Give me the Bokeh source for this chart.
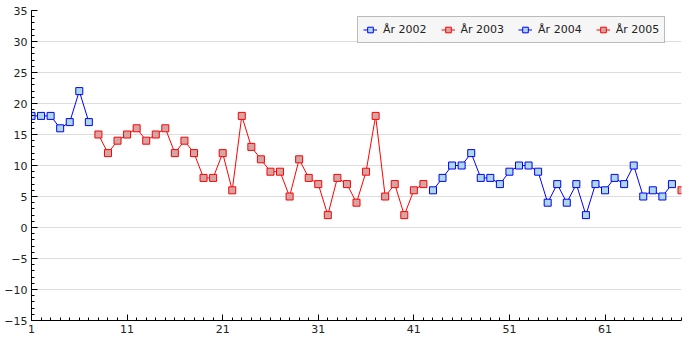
from bokeh.plotting import figure
from bokeh.models import Range1d, FixedTicker
from bokeh.embed import file_html
from bokeh.resources import INLINE

# Data
x2002 = list(range(1, 8))
y2002 = [18, 18, 18, 16, 17, 22, 17]

x2003 = list(range(8, 43))
y2003 = [15, 12, 14, 15, 16, 14, 15, 16, 12, 14, 12, 8, 8, 12, 6, 18, 13, 11,
         9, 9, 5, 11, 8, 7, 2, 8, 7, 4, 9, 18, 5, 7, 2, 6, 7]

x2004 = list(range(43, 69))
y2004 = [6, 8, 10, 10, 12, 8, 8, 7, 9, 10, 10, 9, 4, 7, 4, 7, 2, 7, 6, 8, 7,
         10, 5, 6, 5, 7]

x2005 = [69]
y2005 = [6]

x_ticks = [1, 11, 21, 31, 41, 51, 61]
y_ticks = [-15, -10, -5, 0, 5, 10, 15, 20, 25, 30, 35]

series = [
    ("År 2002", x2002, y2002, "#0000ff", "#add8e6"),
    ("År 2003", x2003, y2003, "#ff0000", "#d4a5a5"),
    ("År 2004", x2004, y2004, "#0000ff", "#add8e6"),
    ("År 2005", x2005, y2005, "#ff0000", "#d4a5a5"),
]

p = figure(width=700, height=350, output_backend="svg", toolbar_location=None,
           x_range=Range1d(1, 69), y_range=Range1d(-15, 35),
           min_border_left=31, min_border_right=19, min_border_top=10,
           min_border_bottom=30)
p.outline_line_color = None
p.background_fill_color = "white"
p.border_fill_color = "white"

for label, xs, ys, lc, fc in series:
    p.line(xs, ys, line_color=lc, line_width=1, legend_label=label)
    p.scatter(xs, ys, marker="square", size=7, line_color=lc, fill_color=fc,
              line_width=1, legend_label=label)

FONT = "DejaVu Sans"
p.xaxis.ticker = FixedTicker(ticks=x_ticks, minor_ticks=list(range(1, 70)))
p.yaxis.ticker = FixedTicker(ticks=y_ticks, minor_ticks=list(range(-15, 36)))

for ax in (p.xaxis[0], p.yaxis[0]):
    ax.axis_line_color = "black"
    ax.axis_line_width = 1
    ax.major_tick_line_color = "black"
    ax.minor_tick_line_color = "black"
    ax.major_tick_in = 6
    ax.major_tick_out = 0
    ax.minor_tick_in = 3
    ax.minor_tick_out = 0
    ax.major_label_text_font = FONT
    ax.major_label_text_font_size = "11px"
    ax.major_label_text_color = "#222222"

p.yaxis.major_label_standoff = 4
p.xaxis.major_label_standoff = 4

p.xgrid.grid_line_color = None
p.ygrid.grid_line_color = "#dddddd"
p.ygrid.grid_line_width = 1

lg = p.legend[0]
lg.orientation = "horizontal"
lg.location = (326, 277)
lg.margin = 0
lg.padding = 5
lg.spacing = 14
lg.label_standoff = 6
lg.glyph_width = 14
lg.glyph_height = 15
lg.label_height = 15
lg.label_text_font = FONT
lg.label_text_font_size = "11px"
lg.label_text_color = "#222222"
lg.background_fill_color = "#f6f6f6"
lg.background_fill_alpha = 1
lg.border_line_color = "#808080"
lg.border_line_width = 1

open("out.html", "w").write(file_html(p, INLINE))
